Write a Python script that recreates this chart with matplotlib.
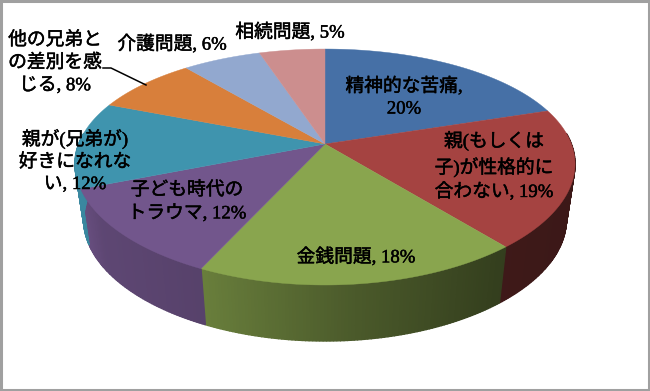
import numpy as np
import matplotlib
matplotlib.use("Agg")
import matplotlib.pyplot as plt
import matplotlib.patheffects as pe
from matplotlib.patches import Polygon, Rectangle
from matplotlib.colors import to_rgb

plt.rcParams['font.family'] = ['Liberation Serif', 'Noto Sans CJK JP', 'DejaVu Sans']

categories = ["精神的な苦痛,\n20%", "親(もしくは\n子)が性格的に\n合わない, 19%", "金銭問題, 18%",
              "子ども時代の\nトラウマ, 12%", "親が(兄弟が)\n好きになれな\nい, 12%",
              "他の兄弟と\nの差別を感\nじる, 8%", "介護問題, 6%", "相続問題, 5%"]
values = [20, 19, 18, 12, 12, 8, 6, 5]
colors = ["#4670A6", "#A54341", "#89A54E", "#72568C", "#3F94AE", "#D87F3B", "#92A8CF", "#CC8E8E"]
label_x = [404, 494, 356, 187, 75, 55, 172, 290]
label_y = [97, 166, 257, 202, 161, 63, 44, 32]

CX, CY, A, B, KX, KY, DEPTH, LOWER = 325, 144, 246.4, 113.5, 0.17, 0.195, 56, 0.965

def project(theta):
    x = CX + A * np.sin(theta) / (1 + KX * np.cos(theta))
    y = CY - B * np.cos(theta) / (1 + KY * np.cos(theta))
    return x, y

def lower(x, y):
    return CX + (x - CX) * LOWER, y + DEPTH

def shade_at(x):
    return np.interp(x, [76, 100, 204, 350, 500, 575], [0.92, 0.82, 0.76, 0.55, 0.38, 0.36])

fig = plt.figure(figsize=(6.5, 3.91), dpi=100)
ax = fig.add_axes([0, 0, 1, 1])
ax.set_xlim(0, 650)
ax.set_ylim(391, 0)
ax.axis('off')

edges = np.concatenate([[0], np.cumsum(values)]) / np.sum(values) * 2 * np.pi

# side wall, front part only, shaded along x
for i, c in enumerate(colors):
    ts = np.linspace(edges[i], edges[i + 1], max(2, int((edges[i + 1] - edges[i]) / 0.012)) + 1)
    rgb = np.array(to_rgb(c))
    for a, b in zip(ts[:-1], ts[1:]):
        if np.cos((a + b) / 2) > 0.1:
            continue
        xa, ya = project(a)
        xb, yb = project(b)
        col = rgb * shade_at((xa + xb) / 2)
        ax.add_patch(Polygon([(xa, ya), (xb, yb), lower(xb, yb), lower(xa, ya)],
                             closed=True, fc=col, ec=col, lw=1.0, zorder=2))

# top face
for i, c in enumerate(colors):
    ts = np.linspace(edges[i], edges[i + 1], 120)
    xs, ys = project(ts)
    pts = [(CX, CY)] + list(zip(xs, ys))
    ax.add_patch(Polygon(pts, closed=True, fc=c, ec=c, lw=0.3, zorder=3))

# leader line for the 8% label
ax.plot([103, 111, 146], [68, 68, 85], color="black", lw=1.1, zorder=4)

for t, x, y in zip(categories, label_x, label_y):
    ax.text(x, y, t, ha='center', va='center', fontsize=13.5, color='black',
            linespacing=1.38, zorder=5,
            path_effects=[pe.withStroke(linewidth=0.35, foreground='black')])

# outer frame
ax.add_patch(Rectangle((1, 1), 648, 389, fc='none', ec='#A0A0A0', lw=2.2, zorder=6))

fig.savefig("out.png", dpi=100)
